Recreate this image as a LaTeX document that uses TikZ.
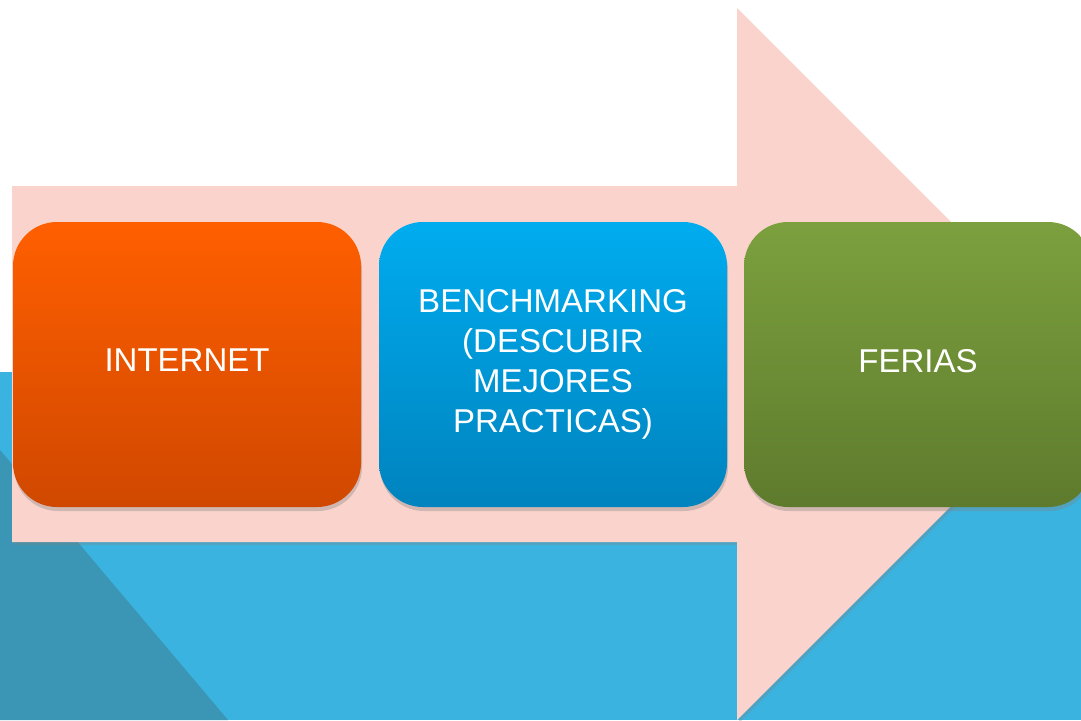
\documentclass[tikz,border=0pt]{standalone}
\usepackage{fontspec}
\setmainfont{Liberation Sans}
\usetikzlibrary{shadows}
\definecolor{sky}{HTML}{3AB3E0}
\definecolor{teal}{HTML}{3A96B4}
\definecolor{pinkarrow}{HTML}{FAD4CC}
\tikzset{
  stage/.style={minimum width=348pt,minimum height=285pt,rounded corners=44pt,
    text=white,align=center,font=\fontsize{33}{40}\selectfont,
    drop shadow={shadow xshift=1pt,shadow yshift=-4pt,opacity=0.35}},
  oneline/.style={text depth=8pt},
}
\begin{document}
\begin{tikzpicture}[x=1pt,y=-1pt]
\useasboundingbox (0,0) rectangle (1081,720);
% background bands
\fill[sky] (0,372) rectangle (1081,720);
\fill[teal] (0,450) -- (228,720) -- (0,720) -- cycle;
% big arrow behind the stages
\fill[pinkarrow,drop shadow={shadow xshift=2pt,shadow yshift=-3pt,opacity=0.3}]
  (12,186) -- (737,186) -- (737,8) -- (1093,364) -- (737,720)
  -- (737,542) -- (12,542) -- cycle;
% stages
\node[stage,oneline,top color={rgb,255:red,255;green,95;blue,0},bottom color={rgb,255:red,208;green,72;blue,0}] (internet) at (187,364.5) {INTERNET};
\node[stage,top color={rgb,255:red,0;green,172;blue,239},bottom color={rgb,255:red,0;green,131;blue,190}] (bench) at (553,364.5) {BENCHMARKING\\(DESCUBIR\\MEJORES\\PRACTICAS)};
\node[stage,oneline,top color={rgb,255:red,124;green,160;blue,62},bottom color={rgb,255:red,94;green,123;blue,45}] (ferias) at (918,364.5) {FERIAS};
\end{tikzpicture}
\end{document}
